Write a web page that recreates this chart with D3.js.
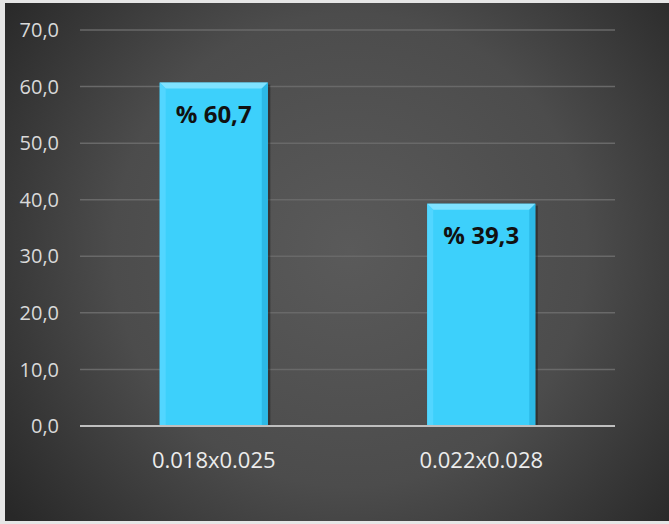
<!DOCTYPE html>
<html><head><meta charset="utf-8">
<script src="https://cdn.jsdelivr.net/npm/d3@7"></script>
<style>html,body{margin:0;padding:0;background:#fff;overflow:hidden}</style>
</head><body>
<script>
const categories = ["0.018x0.025", "0.022x0.028"];
const values = [60.7, 39.3];
const valueLabels = ["% 60,7", "% 39,3"];
const yTicks = [0, 10, 20, 30, 40, 50, 60, 70];

const W = 669, H = 524;
const svg = d3.select("body").append("svg").attr("width", W).attr("height", H);
const defs = svg.append("defs");
const rg = defs.append("radialGradient").attr("id", "bg")
  .attr("gradientUnits", "userSpaceOnUse")
  .attr("cx", 350).attr("cy", 250).attr("r", 430);
rg.append("stop").attr("offset", "0%").attr("stop-color", "#5a5a5a");
rg.append("stop").attr("offset", "55%").attr("stop-color", "#4c4c4c");
rg.append("stop").attr("offset", "100%").attr("stop-color", "#282828");

svg.append("rect").attr("x", 0).attr("y", 0).attr("width", W).attr("height", H).attr("fill", "#e6e6e6");
svg.append("rect").attr("x", 5).attr("y", 3).attr("width", W - 5).attr("height", 518).attr("fill", "url(#bg)");

const x0 = 80, x1 = 615;
const y = d3.scaleLinear().domain([0, 70]).range([426, 30]);
const x = d3.scaleBand().domain(categories).range([x0, x1]).paddingInner(0.596).paddingOuter(0.298);

// gridlines
svg.append("g").selectAll("line").data(yTicks.filter(d => d > 0)).join("line")
  .attr("x1", x0).attr("x2", x1)
  .attr("y1", d => y(d)).attr("y2", d => y(d))
  .attr("stroke", "#696969").attr("stroke-width", 1.5);

// y axis labels
const fmt = d => d.toFixed(1).replace(".", ",");
svg.append("g").selectAll("text").data(yTicks).join("text")
  .attr("x", 59).attr("y", d => y(d)).attr("dy", "0.36em")
  .attr("text-anchor", "end")
  .attr("font-family", "Open Sans, sans-serif").attr("font-size", 20)
  .attr("fill", "#d9d9d9").text(fmt);

// bars with bevel
const bev = 6;
const bars = svg.append("g").selectAll("g").data(values).join("g");
bars.each(function (v, i) {
  const g = d3.select(this);
  const bx = x(categories[i]), bw = x.bandwidth(), top = y(v), bot = y(0);
  g.append("rect").attr("x", bx + 1).attr("y", top + 2).attr("width", bw + 1.5).attr("height", bot - top - 2)
    .attr("fill", "#1a1a1a").attr("opacity", 0.5);
  g.append("rect").attr("x", bx).attr("y", top).attr("width", bw).attr("height", bot - top).attr("fill", "#3dd0fb");
  g.append("polygon").attr("points", [[bx, top], [bx + bw, top], [bx + bw - bev, top + bev], [bx + bev, top + bev]].join(" "))
    .attr("fill", "#7fe2ff");
  g.append("polygon").attr("points", [[bx, top], [bx + bev, top + bev], [bx + bev, bot], [bx, bot]].join(" "))
    .attr("fill", "#52d6ff");
  g.append("polygon").attr("points", [[bx + bw, top], [bx + bw - bev, top + bev], [bx + bw - bev, bot], [bx + bw, bot]].join(" "))
    .attr("fill", "#2cb9e6");
  g.append("text").attr("x", bx + bw / 2).attr("y", top + 32).attr("dy", "0.36em")
    .attr("text-anchor", "middle")
    .attr("font-family", "Open Sans, sans-serif").attr("font-weight", "bold").attr("font-size", 24)
    .attr("fill", "#111").text(valueLabels[i]);
});

// axis line
svg.append("line").attr("x1", x0).attr("x2", x1).attr("y1", y(0)).attr("y2", y(0))
  .attr("stroke", "#bfbfbf").attr("stroke-width", 2);

// x labels
svg.append("g").selectAll("text").data(categories).join("text")
  .attr("x", d => x(d) + x.bandwidth() / 2).attr("y", 460).attr("dy", "0.36em")
  .attr("text-anchor", "middle")
  .attr("font-family", "Open Sans, sans-serif").attr("font-size", 22)
  .attr("fill", "#ececec").text(d => d);
</script>
</body></html>
